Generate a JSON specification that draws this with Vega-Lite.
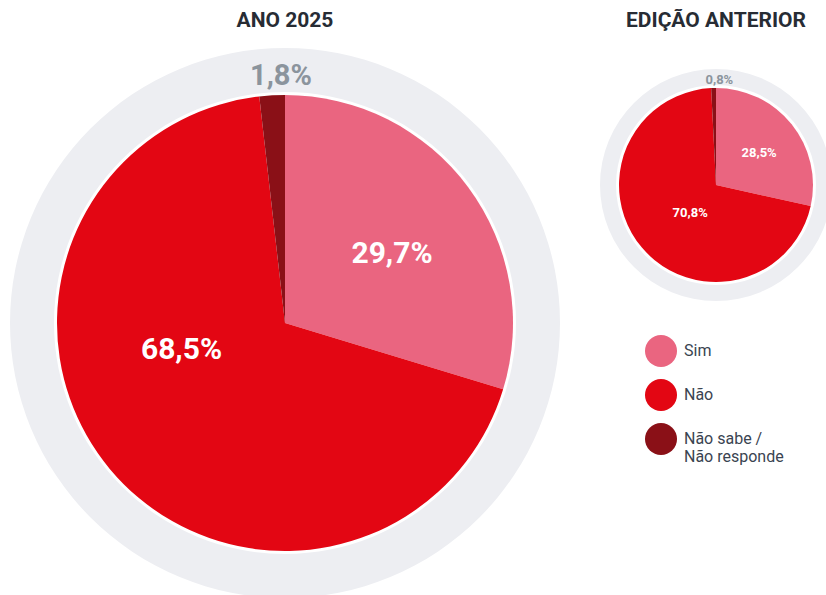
{
  "$schema": "https://vega.github.io/schema/vega-lite/v6.json",
  "padding": {"left": 10, "top": 10, "right": 0, "bottom": 0},
  "background": "white",
  "spacing": 40,
  "config": {
    "view": {"stroke": null},
    "font": "Roboto",
    "title": {"fontSize": 21, "fontWeight": "bold", "color": "#272C34", "font": "Roboto", "baseline": "top", "anchor": "middle"}
  },
  "datasets": {
    "atual": [
      {"resposta": "Sim", "valor": 29.7, "rotulo": "29,7%", "ordem": 1},
      {"resposta": "Não", "valor": 68.5, "rotulo": "68,5%", "ordem": 2},
      {"resposta": "Não sabe / Não responde", "valor": 1.8, "rotulo": "1,8%", "ordem": 3}
    ],
    "anterior": [
      {"resposta": "Sim", "valor": 28.5, "rotulo": "28,5%", "ordem": 1},
      {"resposta": "Não", "valor": 70.8, "rotulo": "70,8%", "ordem": 2},
      {"resposta": "Não sabe / Não responde", "valor": 0.8, "rotulo": "0,8%", "ordem": 3}
    ],
    "anel": [{"v": 1}]
  },
  "resolve": {"scale": {"theta": "independent"}},
  "hconcat": [
    {
      "title": {"text": "ANO 2025", "offset": 17},
      "width": 550,
      "height": 550,
      "data": {"name": "atual"},
      "layer": [
        {
          "data": {"name": "anel"},
          "mark": {"type": "arc", "theta": 0, "theta2": 6.2832, "innerRadius": 231, "outerRadius": 275, "color": "#EDEEF2"},
          "encoding": {}
        },
        {
          "mark": {"type": "arc", "outerRadius": 228},
          "encoding": {
            "theta": {"field": "valor", "type": "quantitative", "stack": true},
            "order": {"field": "ordem", "type": "quantitative"},
            "color": {
              "field": "resposta", "type": "nominal",
              "scale": {"domain": ["Sim", "Não", "Não sabe / Não responde"], "range": ["#EA6580", "#E30613", "#8A1017"]},
              "legend": {
                "orient": "none", "legendX": 635, "legendY": 287, "title": null, "padding": 0,
                "symbolType": "circle", "symbolSize": 1024, "symbolStrokeWidth": 0, "symbolOpacity": 1,
                "rowPadding": 12, "labelOffset": 7, "labelFontSize": 16, "labelColor": "#3A4451", "labelFont": "Roboto", "labelLimit": 200,
                "labelExpr": "datum.label == 'Não sabe / Não responde' ? ['Não sabe /', 'Não responde'] : datum.label"
              }
            }
          }
        },
        {
          "mark": {"type": "text", "radius": 127, "dx": 5, "dy": 7, "fontSize": 30, "fontWeight": "bold", "color": "white"},
          "encoding": {
            "theta": {"field": "valor", "type": "quantitative", "stack": true},
            "order": {"field": "ordem", "type": "quantitative"},
            "text": {"condition": {"test": "datum.resposta === 'Sim'", "field": "rotulo", "type": "nominal"}, "value": ""}
          }
        },
        {
          "mark": {"type": "text", "radius": 106, "dx": -22, "dy": -41, "fontSize": 30, "fontWeight": "bold", "color": "white"},
          "encoding": {
            "theta": {"field": "valor", "type": "quantitative", "stack": true},
            "order": {"field": "ordem", "type": "quantitative"},
            "text": {"condition": {"test": "datum.resposta === 'Não'", "field": "rotulo", "type": "nominal"}, "value": ""}
          }
        },
        {
          "mark": {"type": "text", "radius": 249, "dx": 10, "dy": 2, "fontSize": 29, "fontWeight": "bold", "color": "#8B949D"},
          "encoding": {
            "theta": {"field": "valor", "type": "quantitative", "stack": true},
            "order": {"field": "ordem", "type": "quantitative"},
            "text": {"condition": {"test": "datum.resposta === 'Não sabe / Não responde'", "field": "rotulo", "type": "nominal"}, "value": ""}
          }
        }
      ]
    },
    {
      "title": {"text": "EDIÇÃO ANTERIOR", "offset": 17},
      "width": 232,
      "height": 274,
      "data": {"name": "anterior"},
      "layer": [
        {
          "data": {"name": "anel"},
          "mark": {"type": "arc", "theta": 0, "theta2": 6.2832, "innerRadius": 100, "outerRadius": 116, "color": "#EDEEF2"},
          "encoding": {}
        },
        {
          "mark": {"type": "arc", "outerRadius": 97},
          "encoding": {
            "theta": {"field": "valor", "type": "quantitative", "stack": true},
            "order": {"field": "ordem", "type": "quantitative"},
            "color": {
              "field": "resposta", "type": "nominal",
              "scale": {"domain": ["Sim", "Não", "Não sabe / Não responde"], "range": ["#EA6580", "#E30613", "#8A1017"]},
              "legend": {
                "orient": "none", "legendX": 635, "legendY": 287, "title": null, "padding": 0,
                "symbolType": "circle", "symbolSize": 1024, "symbolStrokeWidth": 0, "symbolOpacity": 1,
                "rowPadding": 12, "labelOffset": 7, "labelFontSize": 16, "labelColor": "#3A4451", "labelFont": "Roboto", "labelLimit": 200,
                "labelExpr": "datum.label == 'Não sabe / Não responde' ? ['Não sabe /', 'Não responde'] : datum.label"
              }
            }
          }
        },
        {
          "mark": {"type": "text", "radius": 54, "dx": 1, "dy": 2, "fontSize": 13, "fontWeight": "bold", "color": "white"},
          "encoding": {
            "theta": {"field": "valor", "type": "quantitative", "stack": true},
            "order": {"field": "ordem", "type": "quantitative"},
            "text": {"condition": {"test": "datum.resposta === 'Sim'", "field": "rotulo", "type": "nominal"}, "value": ""}
          }
        },
        {
          "mark": {"type": "text", "radius": 39, "dx": 4, "dy": 3, "fontSize": 13, "fontWeight": "bold", "color": "white"},
          "encoding": {
            "theta": {"field": "valor", "type": "quantitative", "stack": true},
            "order": {"field": "ordem", "type": "quantitative"},
            "text": {"condition": {"test": "datum.resposta === 'Não'", "field": "rotulo", "type": "nominal"}, "value": ""}
          }
        },
        {
          "mark": {"type": "text", "radius": 106, "dx": 6, "dy": 1, "fontSize": 13, "fontWeight": "bold", "color": "#8B949D"},
          "encoding": {
            "theta": {"field": "valor", "type": "quantitative", "stack": true},
            "order": {"field": "ordem", "type": "quantitative"},
            "text": {"condition": {"test": "datum.resposta === 'Não sabe / Não responde'", "field": "rotulo", "type": "nominal"}, "value": ""}
          }
        }
      ]
    }
  ]
}
